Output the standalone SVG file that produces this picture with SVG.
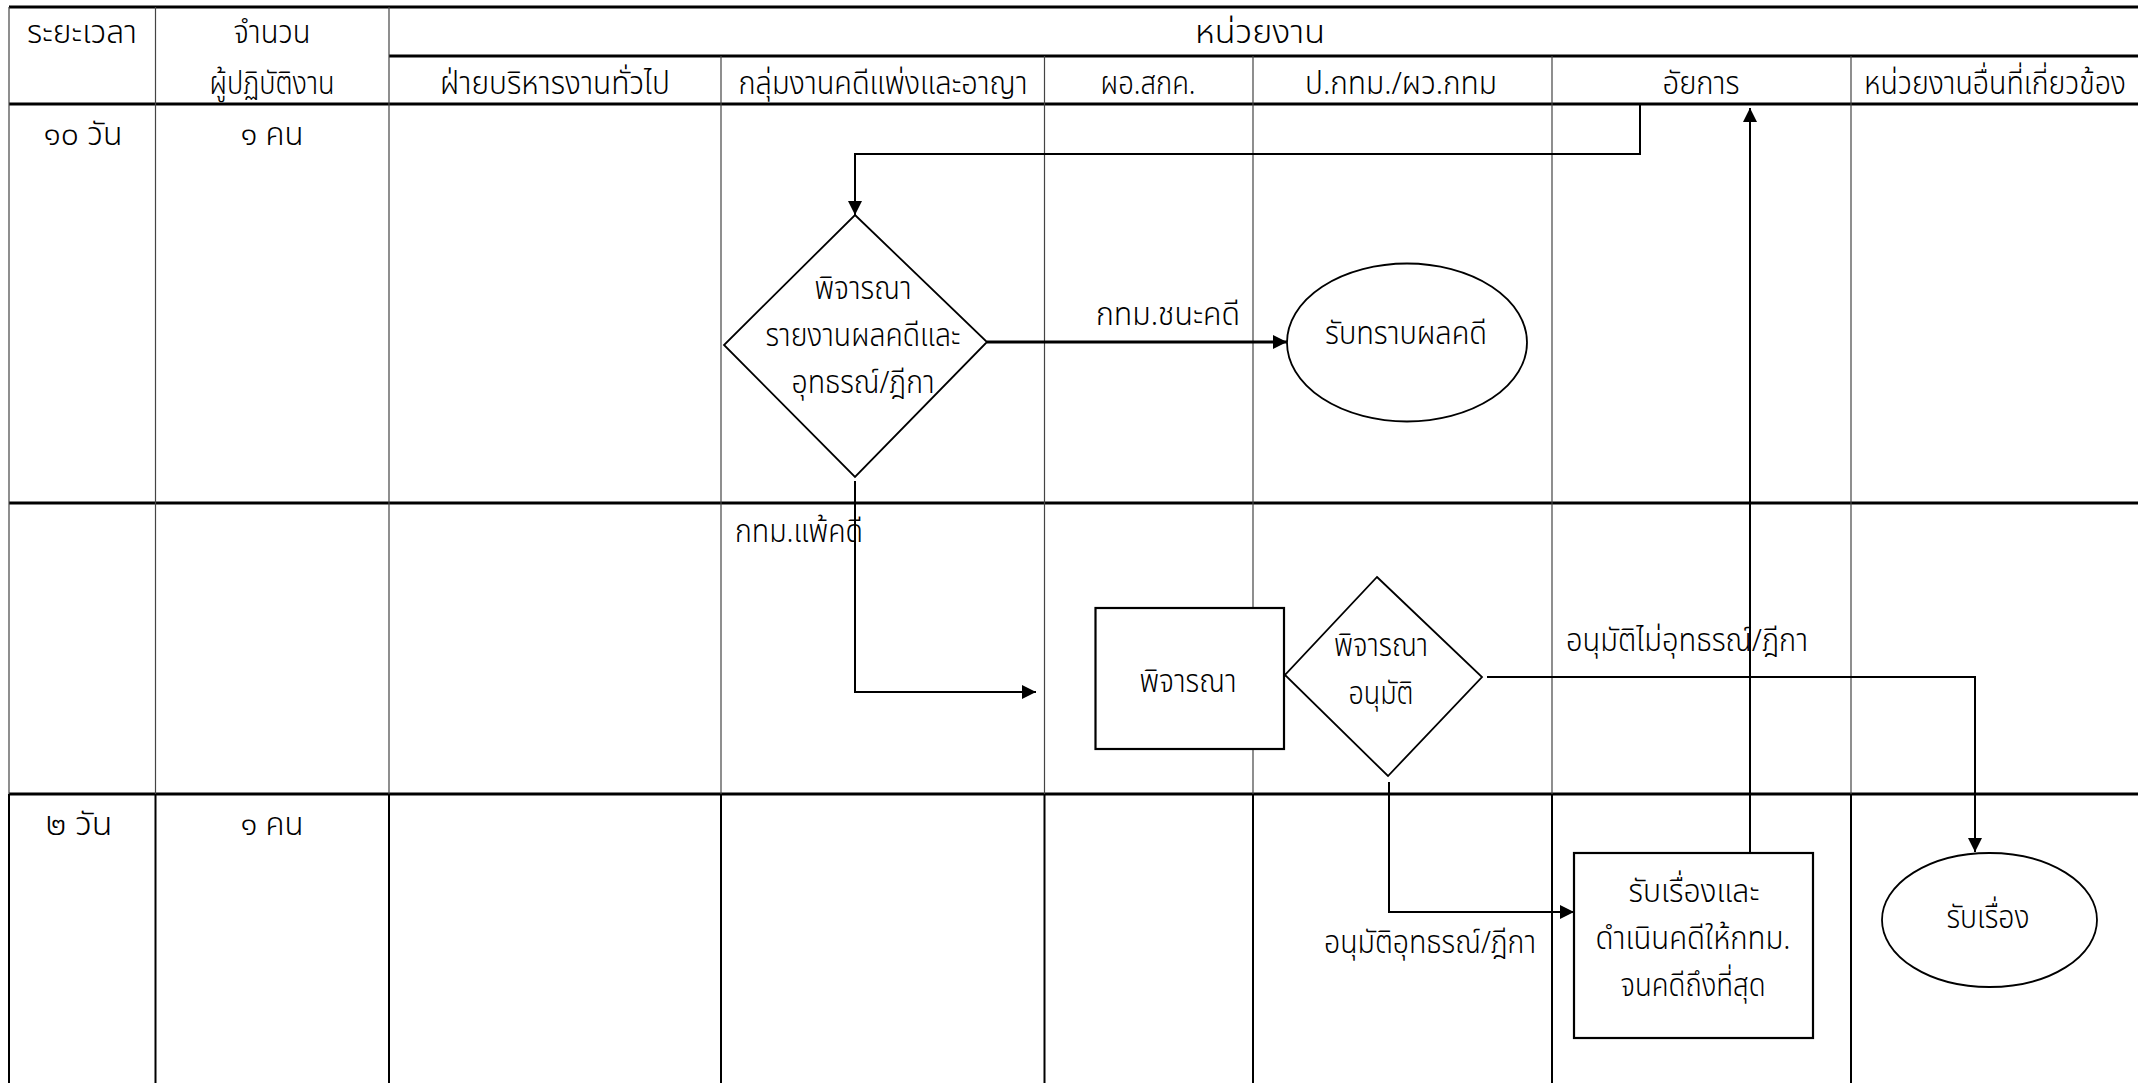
<svg xmlns="http://www.w3.org/2000/svg" width="2138" height="1083" viewBox="0 0 2138 1083">
  <style>
    text { font-family: "Noto Sans Thai", "Noto Sans Thai UI", "Noto Sans", "DejaVu Sans", sans-serif; font-size: 32px; font-weight: 300; fill: #000; text-anchor: middle; }
    .grid-h { stroke: #000; stroke-width: 3; fill: none; }
    .grid-v { stroke: #444; stroke-width: 1.2; fill: none; }
    .grid-vb { stroke: #000; stroke-width: 2; fill: none; }
    .shape { fill: #fff; stroke: #000; stroke-width: 1.8; }
    .box { fill: #fff; stroke: #000; stroke-width: 2.2; }
    .edge { fill: none; stroke: #000; stroke-width: 2; }
    .edge-b { fill: none; stroke: #000; stroke-width: 3; }
  </style>
  <defs>
    <marker id="arrow" markerUnits="userSpaceOnUse" markerWidth="16" markerHeight="16" refX="14" refY="7" orient="auto">
      <path d="M0,0 L14,7 L0,14 Z" fill="#000"/>
    </marker>
  </defs>

  <rect x="0" y="0" width="2138" height="1083" fill="#fff"/>

  <!-- swimlane table -->
  <g id="grid">
    <line class="grid-h" x1="9" y1="7" x2="2138" y2="7"/>
    <line class="grid-h" x1="389" y1="56" x2="2138" y2="56"/>
    <line class="grid-h" x1="9" y1="104" x2="2138" y2="104"/>
    <line class="grid-h" x1="9" y1="503" x2="2138" y2="503"/>
    <line class="grid-h" x1="9" y1="794" x2="2138" y2="794"/>

    <line class="grid-v" x1="9" y1="7" x2="9" y2="794"/>
    <line class="grid-v" x1="155.5" y1="7" x2="155.5" y2="794"/>
    <line class="grid-v" x1="389" y1="7" x2="389" y2="794"/>
    <line class="grid-v" x1="721" y1="56" x2="721" y2="794"/>
    <line class="grid-v" x1="1044.5" y1="56" x2="1044.5" y2="794"/>
    <line class="grid-v" x1="1253" y1="56" x2="1253" y2="794"/>
    <line class="grid-v" x1="1552" y1="56" x2="1552" y2="794"/>
    <line class="grid-v" x1="1851" y1="56" x2="1851" y2="794"/>

    <line class="grid-vb" x1="9" y1="794" x2="9" y2="1083"/>
    <line class="grid-vb" x1="155.5" y1="794" x2="155.5" y2="1083"/>
    <line class="grid-vb" x1="389" y1="794" x2="389" y2="1083"/>
    <line class="grid-vb" x1="721" y1="794" x2="721" y2="1083"/>
    <line class="grid-vb" x1="1044.5" y1="794" x2="1044.5" y2="1083"/>
    <line class="grid-vb" x1="1253" y1="794" x2="1253" y2="1083"/>
    <line class="grid-vb" x1="1552" y1="794" x2="1552" y2="1083"/>
    <line class="grid-vb" x1="1851" y1="794" x2="1851" y2="1083"/>
  </g>

  <g id="headers">
    <text x="82" y="43" textLength="110" lengthAdjust="spacingAndGlyphs">ระยะเวลา</text>
    <text x="272" y="43" textLength="77" lengthAdjust="spacingAndGlyphs">จำนวน</text>
    <text x="272" y="94" textLength="125" lengthAdjust="spacingAndGlyphs">ผู้ปฏิบัติงาน</text>
    <text x="1260" y="43" textLength="130" lengthAdjust="spacingAndGlyphs">หน่วยงาน</text>
    <text x="555" y="94" textLength="230" lengthAdjust="spacingAndGlyphs">ฝ่ายบริหารงานทั่วไป</text>
    <text x="883" y="94" textLength="289" lengthAdjust="spacingAndGlyphs">กลุ่มงานคดีแพ่งและอาญา</text>
    <text x="1148" y="94" textLength="95" lengthAdjust="spacingAndGlyphs">ผอ.สกค.</text>
    <text x="1401" y="94" textLength="192" lengthAdjust="spacingAndGlyphs">ป.กทม./ผว.กทม</text>
    <text x="1701" y="94" textLength="77" lengthAdjust="spacingAndGlyphs">อัยการ</text>
    <text x="2126" y="94" style="text-anchor:end" textLength="262" lengthAdjust="spacingAndGlyphs">หน่วยงานอื่นที่เกี่ยวข้อง</text>
  </g>

  <g id="row-labels">
    <text x="83" y="145" textLength="79" lengthAdjust="spacingAndGlyphs">๑๐ วัน</text>
    <text x="272" y="145" textLength="63" lengthAdjust="spacingAndGlyphs">๑ คน</text>
    <text x="79" y="835" textLength="67" lengthAdjust="spacingAndGlyphs">๒ วัน</text>
    <text x="272" y="835" textLength="63" lengthAdjust="spacingAndGlyphs">๑ คน</text>
  </g>

  <!-- connectors -->
  <g id="connectors">
    <polyline class="edge" points="1640,104 1640,154 855,154 855,215" marker-end="url(#arrow)"/>
    <line class="edge-b" x1="987" y1="342" x2="1287" y2="342" marker-end="url(#arrow)"/>
    <polyline class="edge" points="855,481 855,692 1036,692" marker-end="url(#arrow)"/>
    <line class="edge-b" x1="1284" y1="675" x2="1345" y2="675" marker-end="url(#arrow)"/>
    <polyline class="edge" points="1487,677 1975,677 1975,852" marker-end="url(#arrow)"/>
    <polyline class="edge" points="1389,782 1389,912 1574,912" marker-end="url(#arrow)"/>
    <line class="edge" x1="1750" y1="853" x2="1750" y2="108" marker-end="url(#arrow)"/>
  </g>

  <g id="edge-labels">
    <text x="1168" y="325" textLength="144" lengthAdjust="spacingAndGlyphs">กทม.ชนะคดี</text>
    <text x="799" y="542" textLength="128" lengthAdjust="spacingAndGlyphs">กทม.แพ้คดี</text>
    <text x="1687" y="651" textLength="242" lengthAdjust="spacingAndGlyphs">อนุมัติไม่อุทธรณ์/ฎีกา</text>
    <text x="1430" y="953" textLength="212" lengthAdjust="spacingAndGlyphs">อนุมัติอุทธรณ์/ฎีกา</text>
  </g>

  <!-- flow nodes -->
  <g id="decide-report">
    <polygon class="shape" points="855,215 987,342 855,477 724,345"/>
    <text x="863" y="299" textLength="97" lengthAdjust="spacingAndGlyphs">พิจารณา</text>
    <text x="863" y="346" textLength="195" lengthAdjust="spacingAndGlyphs">รายงานผลคดีและ</text>
    <text x="863" y="393" textLength="143" lengthAdjust="spacingAndGlyphs">อุทธรณ์/ฎีกา</text>
  </g>

  <g id="acknowledge-result">
    <ellipse class="shape" cx="1407" cy="342.5" rx="120" ry="79"/>
    <text x="1406" y="344" textLength="162" lengthAdjust="spacingAndGlyphs">รับทราบผลคดี</text>
  </g>

  <g id="review">
    <rect class="box" x="1095.5" y="608" width="188.5" height="141"/>
    <text x="1188" y="692" textLength="97" lengthAdjust="spacingAndGlyphs">พิจารณา</text>
  </g>

  <g id="decide-approve">
    <polygon class="shape" points="1377,577 1482,677 1388,776 1285,675"/>
    <text x="1381" y="656" textLength="94" lengthAdjust="spacingAndGlyphs">พิจารณา</text>
    <text x="1381" y="704" textLength="65" lengthAdjust="spacingAndGlyphs">อนุมัติ</text>
  </g>

  <g id="prosecute">
    <rect class="box" x="1574" y="853" width="239" height="185"/>
    <text x="1694" y="902" textLength="131" lengthAdjust="spacingAndGlyphs">รับเรื่องและ</text>
    <text x="1693" y="949" textLength="195" lengthAdjust="spacingAndGlyphs">ดำเนินคดีให้กทม.</text>
    <text x="1693" y="996" textLength="145" lengthAdjust="spacingAndGlyphs">จนคดีถึงที่สุด</text>
  </g>

  <g id="receive">
    <ellipse class="shape" cx="1989.5" cy="920" rx="107.5" ry="67"/>
    <text x="1988" y="928" textLength="83" lengthAdjust="spacingAndGlyphs">รับเรื่อง</text>
  </g>
</svg>
